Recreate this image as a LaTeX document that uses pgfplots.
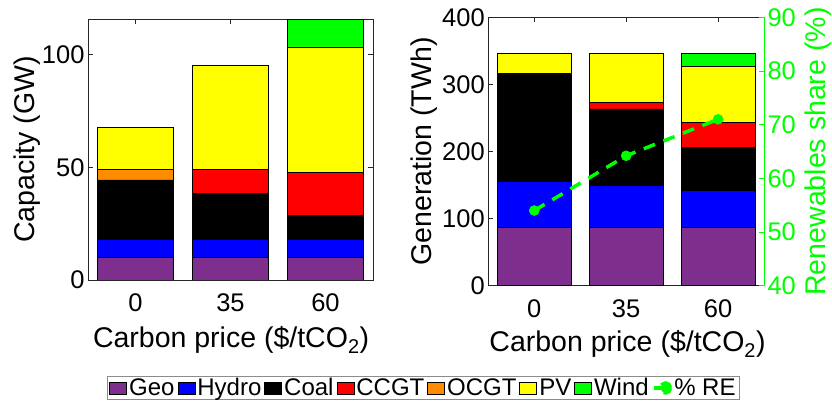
\documentclass[border=0pt]{standalone}
\usepackage{fontspec}
\setmainfont{Liberation Sans}
\usepackage{pgfplots}
\pgfplotsset{compat=1.18}

\definecolor{geo}{rgb}{0.494,0.184,0.557}
\definecolor{hydro}{rgb}{0,0,1}
\definecolor{coal}{rgb}{0,0,0}
\definecolor{ccgt}{rgb}{1,0,0}
\definecolor{ocgt}{rgb}{1,0.55,0}
\definecolor{pv}{rgb}{1,1,0}
\definecolor{wind}{rgb}{0,1,0}
\definecolor{regreen}{rgb}{0,1,0}
\definecolor{axgray}{rgb}{0.15,0.15,0.15}

\newcommand{\tickfont}{\fontsize{25.5bp}{30bp}\selectfont}
\newcommand{\labelfont}{\fontsize{28.5bp}{34bp}\selectfont}
\newcommand{\legfont}{\fontsize{24bp}{28bp}\selectfont}

\pgfplotsset{
  panel/.style={
    scale only axis,
    anchor=south west,
    xmin=-0.5, xmax=2.5,
    xtick={0,1,2}, xticklabels={0,35,60},
    tick align=inside,
    major tick length=5bp,
    axis line style={axgray, line width=0.9bp},
    tick style={axgray, line width=0.9bp},
    tick label style={font=\tickfont, text=black},
    xticklabel style={yshift=-10bp},
    label style={font=\labelfont},
    /pgf/number format/assume math mode=true,
    /pgf/number format/1000 sep={},
  },
  seg/.style={fill=#1, draw=black, line width=0.6bp},
  barleg/.style={legend image code/.code={\draw[##1, line width=0.8bp] (0bp,-6bp) rectangle (17bp,6bp);}},
}

\begin{document}
\begin{tikzpicture}
\useasboundingbox (0,0) rectangle (832bp,405bp);

% Installed capacity
\begin{axis}[panel,
  at={(88bp,125bp)}, width=285bp, height=261bp,
  ybar stacked, bar width=0.8,
  ymin=0, ymax=115.8, ytick={0,50,100},
  xlabel={Carbon price (\$/tCO\textsubscript{2})},
  ylabel={Capacity (GW)},
  xlabel style={at={(axis description cs:0.502,-0.26)}, anchor=base},
  ylabel style={at={(axis description cs:-0.215,0.5)}, anchor=center},
]
\addplot[seg=geo]   coordinates {(0,10) (1,10) (2,10)};
\addplot[seg=hydro] coordinates {(0,8) (1,8) (2,8)};
\addplot[seg=coal]  coordinates {(0,26.4) (1,20.5) (2,10.6)};
\addplot[seg=ccgt]  coordinates {(0,0) (1,10.6) (2,19.3)};
\addplot[seg=ocgt]  coordinates {(0,4.7) (1,0) (2,0)};
\addplot[seg=pv]    coordinates {(0,18.5) (1,46.2) (2,55.5)};
\addplot[seg=wind]  coordinates {(0,0) (1,0) (2,12.4)};
\end{axis}

% Annual generation
\begin{axis}[panel,
  at={(488.3bp,119.3bp)}, width=275.7bp, height=268.4bp,
  ybar stacked, bar width=0.8,
  ymin=0, ymax=400, ytick={0,100,...,400},
  ytick pos=left,
  xlabel={Carbon price (\$/tCO\textsubscript{2})},
  ylabel={Generation (TWh)},
  xlabel style={at={(axis description cs:0.505,-0.246)}, anchor=base},
  ylabel style={at={(axis description cs:-0.232,0.5)}, anchor=center},
]
\addplot[seg=geo]   coordinates {(0,87) (1,86.5) (2,86.5)};
\addplot[seg=hydro] coordinates {(0,69) (1,62.5) (2,56)};
\addplot[seg=coal]  coordinates {(0,160.5) (1,114.4) (2,63.1)};
\addplot[seg=ccgt]  coordinates {(0,0) (1,9.9) (2,38.3)};
\addplot[seg=ocgt]  coordinates {(0,0) (1,0) (2,0)};
\addplot[seg=pv]    coordinates {(0,29.8) (1,73) (2,83)};
\addplot[seg=wind]  coordinates {(0,0) (1,0) (2,19.3)};
\end{axis}

% Renewables share on the right-hand axis, with the shared legend
\begin{axis}[panel,
  at={(488.3bp,119.3bp)}, width=275.7bp, height=268.4bp,
  axis x line=none, axis y line*=right,
  ymin=40, ymax=90, ytick={40,50,...,90},
  axis line style={regreen, line width=0.9bp},
  ytick style={regreen, line width=0.9bp},
  yticklabel style={text=regreen},
  ylabel={Renewables share (\%)},
  ylabel style={at={(axis description cs:1.196,0.5)}, anchor=center, rotate=0, text=regreen},
  legend columns=8,
  legend style={at={(axis description cs:-0.235,-0.381)}, anchor=center,
    draw=black!45, line width=0.8bp, font=\legfont,
    inner xsep=2bp, inner ysep=1bp,
    /tikz/every even column/.append style={column sep=1bp},
    nodes={inner xsep=2bp, inner ysep=1bp}},
]
\addlegendimage{barleg, fill=geo}
\addlegendentry{Geo}
\addlegendimage{barleg, fill=hydro}
\addlegendentry{Hydro}
\addlegendimage{barleg, fill=coal}
\addlegendentry{Coal}
\addlegendimage{barleg, fill=ccgt}
\addlegendentry{CCGT}
\addlegendimage{barleg, fill=ocgt}
\addlegendentry{OCGT}
\addlegendimage{barleg, fill=pv}
\addlegendentry{PV}
\addlegendimage{barleg, fill=wind}
\addlegendentry{Wind}
\addplot[regreen, line width=3.5bp, dash pattern=on 12bp off 9bp,
  mark=*, mark size=5bp, mark options={solid, fill=regreen, draw=regreen, line width=0.5bp},
  legend image code/.code={\draw[regreen, line width=3.5bp] (0bp,0bp) -- (10bp,0bp);
    \fill[regreen] (12bp,0bp) circle (5bp);}]
  coordinates {(0,54.0) (1,64.2) (2,71.0)};
\addlegendentry{\% RE}
\end{axis}
\end{tikzpicture}
\end{document}
